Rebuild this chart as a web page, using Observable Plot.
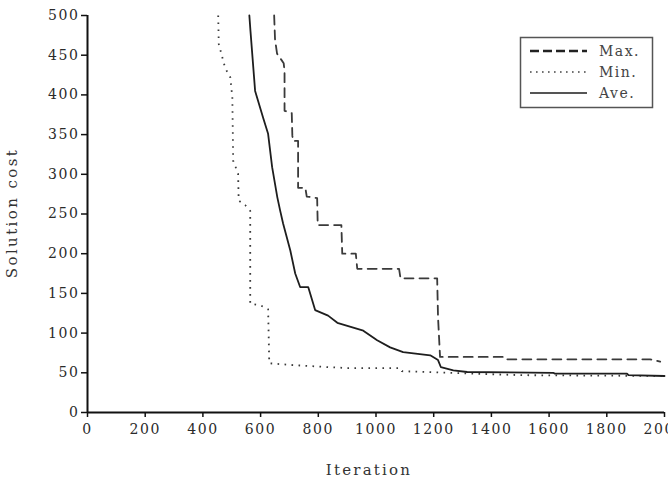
<!DOCTYPE html>
<html>
<head>
<meta charset="utf-8">
<script src="https://cdn.jsdelivr.net/npm/d3@7"></script>
<script src="https://cdn.jsdelivr.net/npm/@observablehq/plot@0.6"></script>
<style>
  html, body { margin: 0; padding: 0; background: #fff; overflow: hidden; }
  svg text { font-family: "DejaVu Serif", serif; }
</style>
</head>
<body>
<div id="chart"></div>
<script>
// Series as [iteration, cost] vertices
const maxSeries = [[647,500],[650,470],[657,452],[680,440],[683,430],[683,380],[708,377],[710,349],[712,342],[730,342],[730,283],[755,283],[760,272],[796,270],[798,236],[880,236],[883,200],[930,200],[935,181],[1080,181],[1085,169],[1212,169],[1215,120],[1222,70],[1450,70],[1455,67],[1950,67],[1985,64]];
const minSeries = [[453,500],[455,464],[477,434],[495,422],[502,397],[505,317],[522,301],[524,267],[547,261],[564,254],[564,137],[600,135],[626,130],[630,62],[700,60],[841,57],[900,56],[1084,56],[1090,52],[1257,50],[1500,47],[2000,46]];
const aveSeries = [[561,500],[565,480],[581,405],[609,371],[626,351],[640,309],[658,271],[668,254],[678,238],[703,204],[720,175],[737,158],[765,158],[789,129],[834,122],[866,113],[956,103],[1004,91],[1049,82],[1094,76],[1188,72],[1215,66],[1225,57],[1268,53],[1316,51],[1614,50],[1620,49],[1870,49],[1875,47],[2000,46]];

const xTicks = [0,200,400,600,800,1000,1200,1400,1600,1800,2000];
const yTicks = [0,50,100,150,200,250,300,350,400,450,500];
const legendLabels = ["Max.", "Min.", "Ave."];
const xLabel = "Iteration";
const yLabel = "Solution cost";

const toRows = (arr) => arr.map(([x, y]) => ({x, y}));
const fmt = (d) => String(d);

const chart = Plot.plot({
  width: 668,
  height: 486,
  marginTop: 15,
  marginLeft: 87,
  marginRight: 4,
  marginBottom: 74,
  style: {background: "#fff", fontFamily: "DejaVu Serif, serif", color: "#222", overflow: "visible"},
  x: {domain: [0, 2000]},
  y: {domain: [0, 500]},
  marks: [
    Plot.axisX({ticks: xTicks, tickFormat: fmt, tickSize: 5, tickPadding: 7, fontSize: 14, label: null, stroke: "#111", strokeWidth: 1.5}),
    Plot.axisY({ticks: yTicks, tickFormat: fmt, tickSize: 6, tickPadding: 2, fontSize: 14, label: null, stroke: "#111", strokeWidth: 1.5}),
    Plot.ruleX([0], {stroke: "#111", strokeWidth: 2}),
    Plot.ruleY([0], {stroke: "#111", strokeWidth: 2}),
    Plot.line(toRows(maxSeries), {x: "x", y: "y", stroke: "#3a3a3a", strokeWidth: 1.8, strokeDasharray: "9,6"}),
    Plot.line(toRows(minSeries), {x: "x", y: "y", stroke: "#3a3a3a", strokeWidth: 1.8, strokeDasharray: "1.6,5.4", strokeLinecap: "butt"}),
    Plot.line(toRows(aveSeries), {x: "x", y: "y", stroke: "#1e1e1e", strokeWidth: 1.8})
  ]
});

document.getElementById("chart").appendChild(chart);

const svg = d3.select(chart);
svg.selectAll("g[aria-label='x-axis tick label'] text, g[aria-label='y-axis tick label'] text")
  .attr("fill", "#2a2a2a").style("letter-spacing", "1.6px").style("font-size", "14px");

// axis titles
svg.append("text")
  .attr("x", 369).attr("y", 475)
  .attr("text-anchor", "middle")
  .attr("fill", "#333")
  .style("font-size", "15px").style("letter-spacing", "2.2px")
  .text(xLabel);
svg.append("text")
  .attr("transform", "translate(17,213) rotate(-90)")
  .attr("text-anchor", "middle")
  .attr("fill", "#333")
  .style("font-size", "15px").style("letter-spacing", "2.4px")
  .text(yLabel);

// legend
const lg = svg.append("g");
lg.append("rect").attr("x", 520.5).attr("y", 37.5).attr("width", 132).attr("height", 70)
  .attr("fill", "#fff").attr("stroke", "#555").attr("stroke-width", 1.5);
const styles = [
  {dash: "9,4", width: 2.4, color: "#222"},
  {dash: "1.6,4.4", width: 1.4, color: "#444"},
  {dash: null, width: 2, color: "#555"}
];
legendLabels.forEach((t, i) => {
  const y = 51 + i * 21;
  const ln = lg.append("line").attr("x1", 530).attr("x2", 587).attr("y1", y).attr("y2", y)
    .attr("stroke", styles[i].color).attr("stroke-width", styles[i].width);
  if (styles[i].dash) ln.attr("stroke-dasharray", styles[i].dash);
  lg.append("text").attr("x", 599).attr("y", y + 5).attr("text-anchor", "start").attr("fill", "#444")
    .style("font-size", "14px").style("letter-spacing", "1.5px").text(t);
});
</script>
</body>
</html>
